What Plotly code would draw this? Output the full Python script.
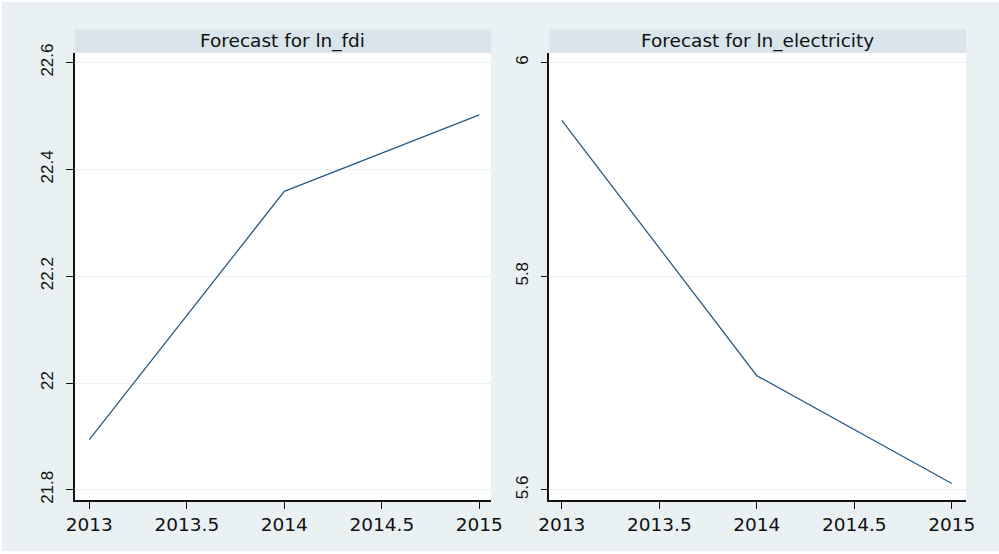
import plotly.graph_objects as go

years = [2013, 2014, 2015]
ln_fdi = [21.894, 22.359, 22.502]
ln_electricity = [5.946, 5.707, 5.606]

x_tickvals = [2013, 2013.5, 2014, 2014.5, 2015]
x_ticktext = ["2013", "2013.5", "2014", "2014.5", "2015"]
fdi_tickvals = [21.8, 22.0, 22.2, 22.4, 22.6]
fdi_ticktext = ["21.8", "22", "22.2", "22.4", "22.6"]
elec_tickvals = [5.6, 5.8, 6.0]
elec_ticktext = ["5.6", "5.8", "6"]
titles = ["Forecast for ln_fdi", "Forecast for ln_electricity"]

W, H = 999, 554
BG = "#e9f1f3"
STRIP = "#d9e5eb"
GRID = "#e9f1f3"
LINE = "#2c5b86"
FONT = "DejaVu Sans"
YFONT = "Liberation Sans"
TXT = "#111111"

fig = go.Figure()
fig.add_trace(go.Scatter(x=years, y=ln_fdi, mode="lines",
                         line=dict(color=LINE, width=1.3), xaxis="x", yaxis="y"))
fig.add_trace(go.Scatter(x=years, y=ln_electricity, mode="lines",
                         line=dict(color=LINE, width=1.3), xaxis="x2", yaxis="y2"))

left_dom = [74.7 / W, 491 / W]
right_dom = [549.3 / W, 966 / W]
y_dom = [(H - 500) / H, (H - 53) / H]
strip_top = (H - 29.3) / H

common_x = dict(tickmode="array", tickvals=x_tickvals, ticktext=x_ticktext,
                showgrid=False, zeroline=False, showline=True, linecolor="#111111",
                linewidth=1.5, ticks="outside", ticklen=7, tickwidth=1.3,
                tickcolor="#111111", tickfont=dict(family=FONT, size=18.5, color=TXT),
                ticklabelstandoff=0, automargin=False)
common_y = dict(tickmode="array", showgrid=True, gridcolor=GRID, gridwidth=1,
                zeroline=False, showline=True, linecolor="#111111", linewidth=1.5,
                ticks="outside", ticklen=7, tickwidth=1.3, tickcolor="#111111",
                tickangle=-90, tickfont=dict(family=YFONT, size=17, color=TXT),
                ticklabelstandoff=6, automargin=False)

fig.update_layout(
    width=W, height=H,
    margin=dict(l=0, r=0, t=0, b=0),
    paper_bgcolor="white", plot_bgcolor="rgba(0,0,0,0)",
    showlegend=False,
    xaxis=dict(domain=left_dom, range=[2012.925, 2015.06], anchor="y", **common_x),
    yaxis=dict(domain=y_dom, range=[21.781, 22.618], anchor="x",
               tickvals=fdi_tickvals, ticktext=fdi_ticktext, **common_y),
    xaxis2=dict(domain=right_dom, range=[2012.936, 2015.073], anchor="y2", **common_x),
    yaxis2=dict(domain=y_dom, range=[5.5906, 6.009], anchor="x2",
                tickvals=elec_tickvals, ticktext=elec_ticktext, **common_y),
)

# outer graph region with a thin white frame
fig.add_shape(type="rect", xref="paper", yref="paper",
              x0=2 / W, x1=1, y0=3 / H, y1=(H - 2) / H,
              fillcolor=BG, line=dict(width=0), layer="below")

for dom, title in zip([left_dom, right_dom], titles):
    fig.add_shape(type="rect", xref="paper", yref="paper",
                  x0=dom[0], x1=dom[1], y0=y_dom[0], y1=y_dom[1],
                  fillcolor="white", line=dict(width=0), layer="below")
    fig.add_shape(type="rect", xref="paper", yref="paper",
                  x0=dom[0], x1=dom[1], y0=y_dom[1], y1=strip_top,
                  fillcolor=STRIP, line=dict(width=0), layer="below")
    fig.add_annotation(xref="paper", yref="paper", x=(dom[0] + dom[1]) / 2,
                       y=(y_dom[1] + strip_top) / 2, text=title, showarrow=False,
                       xanchor="center", yanchor="middle",
                       font=dict(family=FONT, size=18.5, color=TXT))

fig.write_html("out.html", config={"displayModeBar": False},
               post_script="document.body.style.margin='0';document.body.style.overflow='hidden';")
